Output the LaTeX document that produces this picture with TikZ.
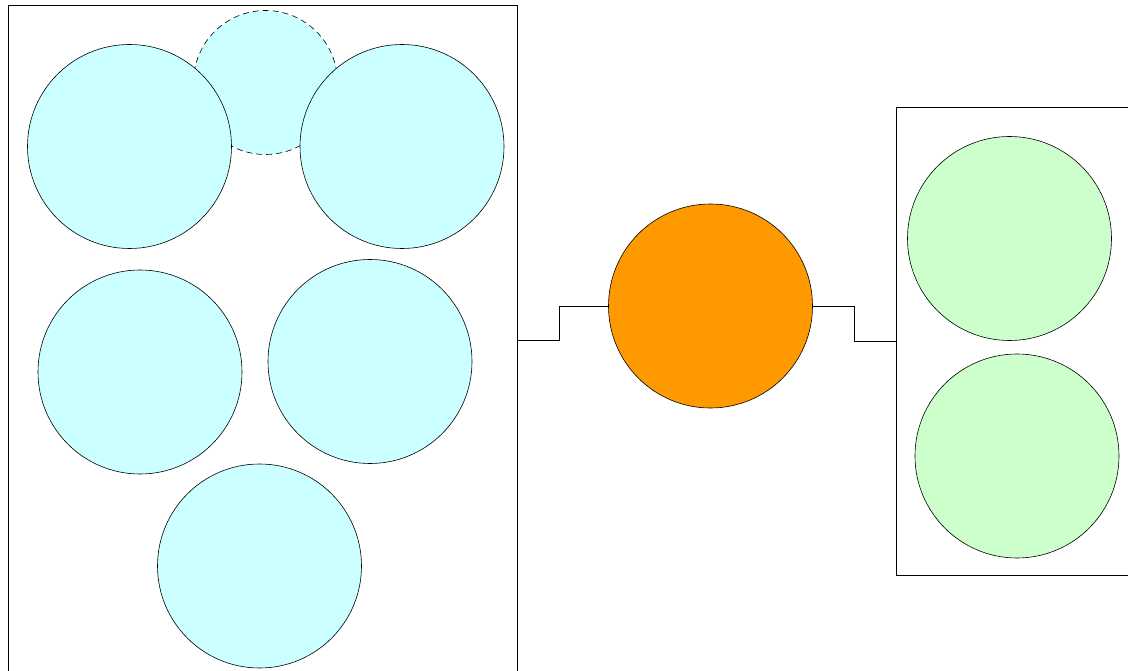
\documentclass[tikz,border=0pt]{standalone}
\begin{document}
\begin{tikzpicture}[x=1pt,y=-1pt,
  ball/.style={circle,draw=black,line width=0.6pt,minimum size=204pt,inner sep=0pt},
  cyanball/.style={ball,fill=cyanfill},
  greenball/.style={ball,fill=greenfill},
  frame/.style={rectangle,draw=black,line width=0.8pt,inner sep=0pt},
  wire/.style={draw=black,line width=0.8pt}]
\definecolor{cyanfill}{HTML}{CCFFFF}
\definecolor{greenfill}{HTML}{CCFFCC}
\definecolor{orangefill}{HTML}{FF9900}
\useasboundingbox (0,0) rectangle (1128,671);
\clip (0,0) rectangle (1128,671);
% containers
\node[frame,minimum width=509pt,minimum height=670pt] (lb) at (262.5,340) {};
\node[frame,minimum width=260pt,minimum height=468pt] (rb) at (1026,341) {};
% left group
\node[cyanball,minimum size=144pt,dash pattern=on 6pt off 4pt] (dash) at (265.5,82.5) {};
\node[cyanball] (c1) at (129.5,146.5) {};
\node[cyanball] (c2) at (402,146.5) {};
\node[cyanball] (c3) at (140,372) {};
\node[cyanball] (c4) at (370,361.5) {};
\node[cyanball] (c5) at (259.5,566) {};
% centre
\node[ball,fill=orangefill] (o) at (710.5,306) {};
% right group
\node[greenball] (g1) at (1009.5,238.5) {};
\node[greenball] (g2) at (1017,456) {};
% connectors
\draw[wire] (lb.east) -- ++(42,0) |- (o.west);
\draw[wire] (o.east) -- ++(42,0) |- (rb.west);
\end{tikzpicture}
\end{document}
